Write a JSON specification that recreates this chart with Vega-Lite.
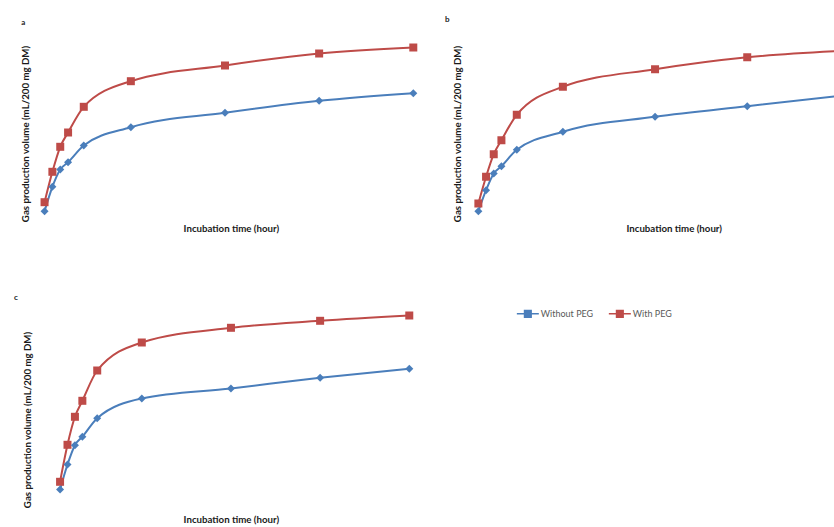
{
  "$schema": "https://vega.github.io/schema/vega-lite/v6.json",
  "background": "white",
  "padding": {"left": 12.7, "top": 15.5, "right": 0, "bottom": 3},
  "bounds": "flush",
  "columns": 2,
  "spacing": {"row": 80, "column": 57},
  "resolve": {"scale": {"color": "independent", "x": "independent", "y": "independent"}, "legend": {"color": "independent"}},
  "data": {"values": [
    {"panel": "a", "group": "With PEG", "time": 2, "value": 17.3},
    {"panel": "a", "group": "With PEG", "time": 4, "value": 47.7},
    {"panel": "a", "group": "With PEG", "time": 6, "value": 72.7},
    {"panel": "a", "group": "With PEG", "time": 8, "value": 87},
    {"panel": "a", "group": "With PEG", "time": 12, "value": 112.7},
    {"panel": "a", "group": "With PEG", "time": 24, "value": 138.3},
    {"panel": "a", "group": "With PEG", "time": 48, "value": 154},
    {"panel": "a", "group": "With PEG", "time": 72, "value": 166},
    {"panel": "a", "group": "With PEG", "time": 96, "value": 172},
    {"panel": "a", "group": "Without PEG", "time": 2, "value": 8.3},
    {"panel": "a", "group": "Without PEG", "time": 4, "value": 32.7},
    {"panel": "a", "group": "Without PEG", "time": 6, "value": 50},
    {"panel": "a", "group": "Without PEG", "time": 8, "value": 57.3},
    {"panel": "a", "group": "Without PEG", "time": 12, "value": 74},
    {"panel": "a", "group": "Without PEG", "time": 24, "value": 92.3},
    {"panel": "a", "group": "Without PEG", "time": 48, "value": 106.7},
    {"panel": "a", "group": "Without PEG", "time": 72, "value": 118.7},
    {"panel": "a", "group": "Without PEG", "time": 96, "value": 126.3},
    {"panel": "b", "group": "With PEG", "time": 2, "value": 16},
    {"panel": "b", "group": "With PEG", "time": 4, "value": 42.7},
    {"panel": "b", "group": "With PEG", "time": 6, "value": 65.3},
    {"panel": "b", "group": "With PEG", "time": 8, "value": 79.3},
    {"panel": "b", "group": "With PEG", "time": 12, "value": 104.7},
    {"panel": "b", "group": "With PEG", "time": 24, "value": 132.7},
    {"panel": "b", "group": "With PEG", "time": 48, "value": 150.3},
    {"panel": "b", "group": "With PEG", "time": 72, "value": 162.3},
    {"panel": "b", "group": "With PEG", "time": 96, "value": 168.5},
    {"panel": "b", "group": "Without PEG", "time": 2, "value": 8.3},
    {"panel": "b", "group": "Without PEG", "time": 4, "value": 29.3},
    {"panel": "b", "group": "Without PEG", "time": 6, "value": 46},
    {"panel": "b", "group": "Without PEG", "time": 8, "value": 53.3},
    {"panel": "b", "group": "Without PEG", "time": 12, "value": 69.7},
    {"panel": "b", "group": "Without PEG", "time": 24, "value": 87.7},
    {"panel": "b", "group": "Without PEG", "time": 48, "value": 102.7},
    {"panel": "b", "group": "Without PEG", "time": 72, "value": 113.3},
    {"panel": "b", "group": "Without PEG", "time": 96, "value": 123.5},
    {"panel": "c", "group": "With PEG", "time": 2, "value": 17.7},
    {"panel": "c", "group": "With PEG", "time": 4, "value": 54.7},
    {"panel": "c", "group": "With PEG", "time": 6, "value": 82.7},
    {"panel": "c", "group": "With PEG", "time": 8, "value": 98.7},
    {"panel": "c", "group": "With PEG", "time": 12, "value": 129},
    {"panel": "c", "group": "With PEG", "time": 24, "value": 157},
    {"panel": "c", "group": "With PEG", "time": 48, "value": 171.7},
    {"panel": "c", "group": "With PEG", "time": 72, "value": 178.7},
    {"panel": "c", "group": "With PEG", "time": 96, "value": 184},
    {"panel": "c", "group": "Without PEG", "time": 2, "value": 10},
    {"panel": "c", "group": "Without PEG", "time": 4, "value": 35},
    {"panel": "c", "group": "Without PEG", "time": 6, "value": 54.3},
    {"panel": "c", "group": "Without PEG", "time": 8, "value": 62.7},
    {"panel": "c", "group": "Without PEG", "time": 12, "value": 81.3},
    {"panel": "c", "group": "Without PEG", "time": 24, "value": 101},
    {"panel": "c", "group": "Without PEG", "time": 48, "value": 111},
    {"panel": "c", "group": "Without PEG", "time": 72, "value": 121.7},
    {"panel": "c", "group": "Without PEG", "time": 96, "value": 130.7}
  ]},
  "concat": [
    {
      "width": 376.6, "height": 180,
      "transform": [{"filter": "datum.panel === 'a'"}],
      "encoding": {
        "y": {"field": "value", "type": "quantitative", "scale": {"domain": [0, 180], "nice": false}, "axis": {"title": "Gas production volume (mL/200 mg DM)", "titleX": -10.85, "titleY": 94, "titleAngle": -90, "titleAlign": "center", "titleBaseline": "middle"}},
        "color": {"field": "group", "type": "nominal", "scale": {"domain": ["Without PEG", "With PEG"], "range": ["#4a7ebb", "#be4b48"]}, "legend": null}
      },
      "layer": [
        {"mark": {"type": "line", "interpolate": "monotone", "strokeWidth": 2},
         "encoding": {"x": {"field": "time", "type": "quantitative", "scale": {"domain": [0, 96], "nice": false, "zero": false}, "axis": {"orient": "bottom", "title": "Incubation time (hour)", "titleX": 194.15, "titleY": 9, "titleAlign": "center", "titleBaseline": "middle"}}}},
        {"mark": {"type": "point", "filled": true, "opacity": 1, "size": 64},
         "encoding": {"x": {"field": "time", "type": "quantitative", "axis": {"orient": "top", "title": "a", "titleX": -15.85, "titleY": -17.3, "titleAlign": "left", "titleBaseline": "middle", "titleFontSize": 8}},
           "shape": {"condition": {"test": "datum.group === 'With PEG'", "value": "square"}, "value": "diamond"}}}
      ],
      "resolve": {"axis": {"x": "independent"}}
    },
    {
      "width": 364.5, "height": 180,
      "transform": [{"filter": "datum.panel === 'b'"}],
      "encoding": {
        "y": {"field": "value", "type": "quantitative", "scale": {"domain": [0, 180], "nice": false}, "axis": {"title": "Gas production volume (mL/200 mg DM)", "titleX": -12.8, "titleY": 94, "titleAngle": -90, "titleAlign": "center", "titleBaseline": "middle"}},
        "color": {"field": "group", "type": "nominal", "scale": {"domain": ["Without PEG", "With PEG"], "range": ["#4a7ebb", "#be4b48"]}, "legend": null}
      },
      "layer": [
        {"mark": {"type": "line", "interpolate": "monotone", "strokeWidth": 2, "clip": true},
         "encoding": {"x": {"field": "time", "type": "quantitative", "scale": {"domain": [0, 94.9], "nice": false, "zero": false}, "axis": {"orient": "bottom", "title": "Incubation time (hour)", "titleX": 203, "titleY": 9, "titleAlign": "center", "titleBaseline": "middle"}}}},
        {"mark": {"type": "point", "filled": true, "opacity": 1, "size": 64, "clip": true},
         "encoding": {"x": {"field": "time", "type": "quantitative", "axis": {"orient": "top", "title": "b", "titleX": -26.2, "titleY": -20, "titleAlign": "left", "titleBaseline": "middle", "titleFontSize": 8}},
           "shape": {"condition": {"test": "datum.group === 'With PEG'", "value": "square"}, "value": "diamond"}}}
      ],
      "resolve": {"axis": {"x": "independent"}}
    },
    {
      "width": 376.6, "height": 200,
      "transform": [{"filter": "datum.panel === 'c'"}],
      "encoding": {
        "y": {"field": "value", "type": "quantitative", "scale": {"domain": [0, 200], "nice": false}, "axis": {"title": "Gas production volume (mL/200 mg DM)", "titleX": -9.15, "titleY": 120, "titleAngle": -90, "titleAlign": "center", "titleBaseline": "middle"}},
        "color": {"field": "group", "type": "nominal", "scale": {"domain": ["Without PEG", "With PEG"], "range": ["#4a7ebb", "#be4b48"]},
          "legend": {"title": null, "orient": "none", "legendX": 479.15, "legendY": 2, "direction": "horizontal", "symbolType": "M-1,0H1M-0.3,-0.3H0.3V0.3H-0.3Z", "symbolSize": 484, "symbolStrokeWidth": 1.5, "labelOffset": 1, "columnPadding": 12, "labelFont": "Lato", "labelFontSize": 9, "labelColor": "#595959"}}
      },
      "layer": [
        {"mark": {"type": "line", "interpolate": "monotone", "strokeWidth": 2},
         "encoding": {"x": {"field": "time", "type": "quantitative", "scale": {"domain": [-4.29, 97.08], "nice": false, "zero": false}, "axis": {"orient": "bottom", "title": "Incubation time (hour)", "titleX": 194.15, "titleY": 20, "titleAlign": "center", "titleBaseline": "middle"}}}},
        {"mark": {"type": "point", "filled": true, "opacity": 1, "size": 64},
         "encoding": {"x": {"field": "time", "type": "quantitative", "axis": {"orient": "top", "title": "c", "titleX": -23.15, "titleY": -1.7, "titleAlign": "left", "titleBaseline": "middle", "titleFontSize": 8}},
           "shape": {"condition": {"test": "datum.group === 'With PEG'", "value": "square"}, "value": "diamond"}}}
      ],
      "resolve": {"axis": {"x": "independent"}}
    }
  ],
  "config": {
    "view": {"stroke": null},
    "axis": {"domain": false, "ticks": false, "labels": false, "grid": false, "titleFont": "Lato", "titleFontSize": 9.7, "titleFontWeight": "bold", "titleColor": "#1a1a1a"}
  }
}
